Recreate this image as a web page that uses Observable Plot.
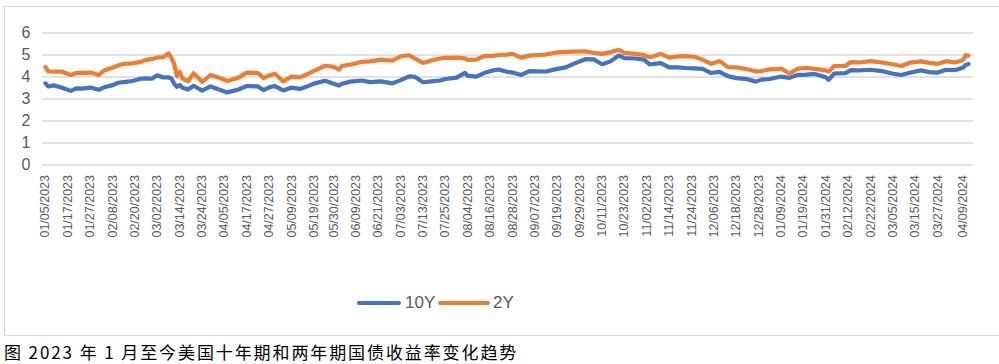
<!DOCTYPE html>
<html><head><meta charset="utf-8">
<script src="https://cdn.jsdelivr.net/npm/d3@7"></script>
<script src="https://cdn.jsdelivr.net/npm/@observablehq/plot@0.6"></script>
<style>
html,body{margin:0;padding:0;background:#fff;overflow:hidden;width:999px;height:364px;}
#frame{position:absolute;left:4px;top:6px;width:1000px;height:328px;border:1px solid #d9d9d9;}
#chart{position:absolute;left:0;top:0;}
.lg{position:absolute;top:293px;font-family:"Liberation Sans",Arial,sans-serif;font-size:17px;line-height:20px;color:#595959;}
.sw{position:absolute;height:4px;border-radius:2px;top:301px;}
#cap{position:absolute;left:4px;top:343px;font-family:"Noto Sans CJK SC",sans-serif;font-size:17px;line-height:18px;color:#000;white-space:nowrap;letter-spacing:1.9px;}
</style></head>
<body>
<div id="frame"></div>
<div id="chart"></div>
<div class="sw" style="left:357px;width:44px;background:#4472C4"></div>
<div class="lg" style="left:405px">10Y</div>
<div class="sw" style="left:438px;width:52px;background:#ED7D31"></div>
<div class="lg" style="left:493px">2Y</div>
<div id="cap">图 2023 年 1 月至今美国十年期和两年期国债收益率变化趋势</div>
<script>
const tickLabels = ["01/05/2023","01/17/2023","01/27/2023","02/08/2023","02/20/2023","03/02/2023","03/14/2023","03/24/2023","04/05/2023","04/17/2023","04/27/2023","05/09/2023","05/19/2023","05/30/2023","06/09/2023","06/21/2023","07/03/2023","07/13/2023","07/25/2023","08/04/2023","08/16/2023","08/28/2023","09/07/2023","09/19/2023","09/29/2023","10/11/2023","10/23/2023","11/02/2023","11/14/2023","11/24/2023","12/06/2023","12/18/2023","12/28/2023","01/09/2024","01/19/2024","01/31/2024","02/12/2024","02/22/2024","03/05/2024","03/15/2024","03/27/2024","04/09/2024"];
const series = ["10Y","2Y"];
const yTicks = [0,1,2,3,4,5,6];
const dates = ["01/05/2023","01/06/2023","01/10/2023","01/13/2023","01/18/2023","01/20/2023","01/24/2023","01/27/2023","02/01/2023","02/03/2023","02/08/2023","02/10/2023","02/14/2023","02/17/2023","02/22/2023","02/24/2023","02/28/2023","03/02/2023","03/06/2023","03/08/2023","03/09/2023","03/10/2023","03/13/2023","03/14/2023","03/15/2023","03/17/2023","03/21/2023","03/24/2023","03/29/2023","04/03/2023","04/06/2023","04/12/2023","04/17/2023","04/21/2023","04/25/2023","04/27/2023","05/01/2023","05/04/2023","05/09/2023","05/12/2023","05/16/2023","05/19/2023","05/25/2023","05/30/2023","06/01/2023","06/02/2023","06/07/2023","06/13/2023","06/16/2023","06/22/2023","06/28/2023","07/03/2023","07/06/2023","07/10/2023","07/13/2023","07/18/2023","07/21/2023","07/25/2023","07/31/2023","08/03/2023","08/04/2023","08/09/2023","08/14/2023","08/17/2023","08/21/2023","08/24/2023","08/28/2023","08/31/2023","09/05/2023","09/08/2023","09/13/2023","09/19/2023","09/22/2023","09/27/2023","10/03/2023","10/06/2023","10/11/2023","10/16/2023","10/19/2023","10/23/2023","10/27/2023","11/01/2023","11/03/2023","11/09/2023","11/14/2023","11/17/2023","11/22/2023","11/27/2023","11/30/2023","12/05/2023","12/08/2023","12/13/2023","12/18/2023","12/22/2023","12/27/2023","12/29/2023","01/03/2024","01/09/2024","01/12/2024","01/17/2024","01/22/2024","01/25/2024","01/31/2024","02/01/2024","02/05/2024","02/09/2024","02/13/2024","02/16/2024","02/22/2024","02/28/2024","03/05/2024","03/08/2024","03/13/2024","03/19/2024","03/22/2024","03/27/2024","04/01/2024","04/04/2024","04/09/2024","04/10/2024","04/11/2024"];
const y10 = [3.71,3.57,3.62,3.51,3.37,3.48,3.47,3.52,3.42,3.53,3.63,3.74,3.77,3.82,3.92,3.94,3.92,4.08,3.98,3.98,3.93,3.70,3.55,3.64,3.51,3.43,3.60,3.38,3.57,3.43,3.30,3.43,3.59,3.57,3.40,3.53,3.59,3.39,3.52,3.46,3.54,3.70,3.83,3.69,3.61,3.69,3.79,3.84,3.77,3.80,3.71,3.86,4.03,4.01,3.76,3.80,3.84,3.91,3.97,4.19,4.05,4.02,4.19,4.30,4.34,4.24,4.20,4.09,4.27,4.26,4.25,4.37,4.44,4.61,4.81,4.80,4.58,4.71,4.98,4.86,4.84,4.79,4.57,4.63,4.44,4.44,4.41,4.39,4.37,4.18,4.23,4.04,3.95,3.90,3.79,3.88,3.91,4.02,3.96,4.10,4.11,4.14,3.99,3.87,4.16,4.18,4.31,4.30,4.33,4.27,4.15,4.09,4.19,4.30,4.22,4.20,4.33,4.31,4.42,4.55,4.59];
const y2 = [4.45,4.26,4.24,4.24,4.09,4.18,4.19,4.20,4.09,4.30,4.43,4.52,4.60,4.62,4.69,4.78,4.81,4.89,4.90,5.07,4.87,4.60,4.03,4.24,3.93,3.81,4.17,3.78,4.09,3.97,3.82,3.97,4.20,4.18,3.95,4.07,4.15,3.80,4.02,3.98,4.09,4.28,4.51,4.46,4.34,4.50,4.56,4.69,4.71,4.79,4.74,4.94,4.99,4.85,4.64,4.75,4.84,4.87,4.88,4.85,4.78,4.79,4.96,4.96,5.00,5.02,5.05,4.88,4.97,5.00,5.02,5.12,5.14,5.15,5.17,5.10,5.05,5.13,5.24,5.10,5.05,5.00,4.90,5.05,4.88,4.94,4.95,4.92,4.78,4.60,4.72,4.45,4.44,4.35,4.25,4.27,4.35,4.38,4.16,4.38,4.42,4.37,4.30,4.24,4.50,4.50,4.68,4.66,4.72,4.66,4.58,4.50,4.65,4.71,4.64,4.60,4.72,4.66,4.76,4.99,4.97];

const parse = d3.utcParse("%m/%d/%Y");
const start = parse(tickLabels[0]);
// position on a weekday (category) axis
const wd = s => d3.utcDays(start, parse(s)).filter(d => d.getUTCDay() % 6 !== 0).length;
const tickIdx = tickLabels.map(wd);
const labelOf = new Map(tickIdx.map((v, i) => [v, tickLabels[i]]));

const rows = [];
dates.forEach((d, i) => {
  rows.push({x: wd(d), v: y10[i], s: series[0]});
  rows.push({x: wd(d), v: y2[i], s: series[1]});
});

const chart = Plot.plot({
  width: 999, height: 250,
  marginLeft: 42, marginRight: 26, marginTop: 32.5, marginBottom: 85.5,
  style: {fontFamily: "'Liberation Sans', Arial, sans-serif", fontSize: "14px", color: "#595959", background: "transparent"},
  x: {type: "linear", domain: [-1.07, 331.8]},
  y: {domain: [0, 6]},
  color: {domain: series, range: ["#4472C4", "#ED7D31"]},
  marks: [
    Plot.gridY(yTicks, {stroke: "#d9d9d9", strokeOpacity: 1, strokeWidth: 1.3}),
    Plot.axisY(yTicks, {tickSize: 0, tickPadding: 12, label: null, fontSize: 16}),
    Plot.axisX(tickIdx, {tickSize: 0, tickPadding: 10, tickRotate: -90, tickFormat: i => labelOf.get(i), label: null, fontSize: 12.5}),
    Plot.line(rows, {x: "x", y: "v", z: "s", stroke: "s", strokeWidth: 4.2, strokeLinejoin: "round", strokeLinecap: "round"})
  ]
});
document.getElementById("chart").appendChild(chart);
</script>
</body></html>
